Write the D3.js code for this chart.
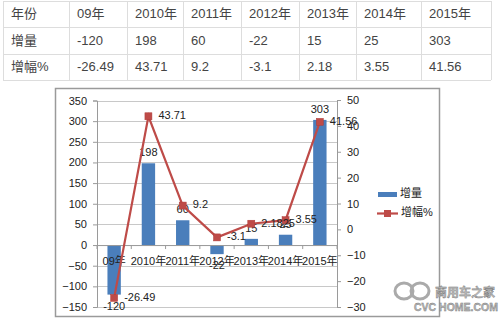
<!DOCTYPE html>
<html><head><meta charset="utf-8">
<script src="https://cdn.jsdelivr.net/npm/d3@7"></script>
<style>
body{margin:0;background:#fff;}
svg{display:block;}
</style></head>
<body><svg id="c" width="500" height="323"></svg>
<script>
const categories = ["09年","2010年","2011年","2012年","2013年","2014年","2015年"];
const tableYears = ["09年","2010年","2011年","2012年","2013年","2014年","2015年"];
const increase = [-120,198,60,-22,15,25,303];
const growthTable = ["-26.49","43.71","9.2","-3.1","2.18","3.55","41.56"];
const growth = [-26.49,43.71,9.2,-3.1,2.1825,3.55,41.56];
const growthLabels = ["-26.49","43.71","9.2","-3.1","2.1825","3.55","41.56"];
const leftTicks = [-150,-100,-50,0,50,100,150,200,250,300,350];
const rightTicks = [-30,-20,-10,0,10,20,30,40,50];
const rowHeads = ["年份","增量","增幅%"];
const seriesNames = ["增量","增幅%"];

const svg = d3.select("#c");
const FONT = "'Liberation Sans','Noto Sans CJK SC',sans-serif";

// ---------- table ----------
const colEdges = [3,69,127,183,241,299,356,421,491];
const rowEdges = [1,27,54,80];
const tbl = svg.append("g");
const rows = [[rowHeads[0], ...tableYears],[rowHeads[1], ...increase.map(String)],[rowHeads[2], ...growthTable]];
tbl.selectAll("line.h").data(rowEdges).join("line")
  .attr("x1",colEdges[0]).attr("x2",colEdges[colEdges.length-1])
  .attr("y1",d=>d+0.5).attr("y2",d=>d+0.5).attr("stroke","#dddddd");
tbl.selectAll("line.v").data(colEdges).join("line")
  .attr("y1",rowEdges[0]).attr("y2",rowEdges[rowEdges.length-1])
  .attr("x1",d=>d+0.5).attr("x2",d=>d+0.5).attr("stroke","#dddddd");
rows.forEach((r,ri)=>{
  tbl.selectAll(null).data(r).join("text")
    .attr("x",(d,i)=>colEdges[i]+8)
    .attr("y",(rowEdges[ri]+rowEdges[ri+1])/2+1)
    .attr("dominant-baseline","middle")
    .attr("font-family",FONT).attr("font-size",13).attr("fill","#444")
    .text(d=>d);
});

// ---------- chart frame ----------
svg.append("rect").attr("x",55.5).attr("y",88.5).attr("width",384).attr("height",228)
  .attr("fill","#fff").attr("stroke","#9a9a9a").attr("stroke-width",1.5);

const x = d3.scaleBand().domain(categories).range([97,337]).padding(0);
const yL = d3.scaleLinear().domain([-150,350]).range([307,100.5]);
const yR = d3.scaleLinear().domain([-30,50]).range([307,100]);

// gridlines
svg.append("g").selectAll("line").data(leftTicks).join("line")
  .attr("x1",97).attr("x2",337)
  .attr("y1",d=>Math.round(yL(d))+0.5).attr("y2",d=>Math.round(yL(d))+0.5)
  .attr("stroke","#c8c8c8");

// left axis
const gL = svg.append("g").attr("transform","translate(97,0)")
  .call(d3.axisLeft(yL).tickValues(leftTicks).tickSize(4).tickPadding(6));
// right axis
const gR = svg.append("g").attr("transform","translate(337,0)")
  .call(d3.axisRight(yR).tickValues(rightTicks).tickSize(4).tickPadding(6));
[gL,gR].forEach(g=>{
  g.select(".domain").attr("stroke","#9a9a9a");
  g.selectAll(".tick line").attr("stroke","#9a9a9a");
  g.selectAll(".tick text").attr("font-family",FONT).attr("font-size",11).attr("fill","#222");
});

// bars
const bw = x.bandwidth()*0.39;
svg.append("g").selectAll("rect").data(increase).join("rect")
  .attr("x",(d,i)=>x(categories[i])+x.bandwidth()/2-bw/2)
  .attr("width",bw)
  .attr("y",d=>yL(Math.max(0,d)))
  .attr("height",d=>Math.abs(yL(d)-yL(0)))
  .attr("fill","#4a7ebb");

// x axis at zero
const gX = svg.append("g").attr("transform",`translate(0,${yL(0)})`)
  .call(d3.axisBottom(x).tickSize(0).tickPadding(12));
gX.select(".domain").attr("stroke","#9a9a9a");
gX.selectAll(".tick text").attr("font-family",FONT).attr("font-size",11).attr("fill","#222");
svg.append("g").selectAll("line").data(d3.range(categories.length+1)).join("line")
  .attr("x1",i=>97+i*x.step()).attr("x2",i=>97+i*x.step())
  .attr("y1",yL(0)).attr("y2",yL(0)+4).attr("stroke","#9a9a9a");

// bar labels
svg.append("g").selectAll("text").data(increase).join("text")
  .attr("x",(d,i)=>x(categories[i])+x.bandwidth()/2)
  .attr("y",d=>d>=0? yL(d)-10 : yL(d)+12)
  .attr("text-anchor","middle").attr("dominant-baseline","middle")
  .attr("font-family",FONT).attr("font-size",11).attr("fill","#222")
  .text(d=>d);

// line
const line = d3.line().x((d,i)=>x(categories[i])+x.bandwidth()/2).y(d=>yR(d));
svg.append("path").datum(growth).attr("d",line)
  .attr("fill","none").attr("stroke","#be4b48").attr("stroke-width",2.2);
svg.append("g").selectAll("rect").data(growth).join("rect")
  .attr("x",(d,i)=>x(categories[i])+x.bandwidth()/2-3.5)
  .attr("y",d=>yR(d)-3.5).attr("width",7).attr("height",7)
  .attr("fill","#be4b48").attr("stroke","#b03c39").attr("stroke-width",0.5);
svg.append("g").selectAll("text").data(growth).join("text")
  .attr("x",(d,i)=>x(categories[i])+x.bandwidth()/2+10)
  .attr("y",d=>yR(d))
  .attr("dominant-baseline","middle")
  .attr("font-family",FONT).attr("font-size",11).attr("fill","#222")
  .text((d,i)=>growthLabels[i]);

// legend
const lg = svg.append("g");
lg.append("rect").attr("x",378).attr("y",192).attr("width",19).attr("height",5).attr("fill","#4a7ebb");
lg.append("text").attr("x",400).attr("y",194.5).attr("dominant-baseline","middle")
  .attr("font-family",FONT).attr("font-size",11).attr("fill","#222").text(seriesNames[0]);
lg.append("line").attr("x1",377).attr("x2",398).attr("y1",213.5).attr("y2",213.5)
  .attr("stroke","#be4b48").attr("stroke-width",2.2);
lg.append("rect").attr("x",384).attr("y",210).attr("width",7).attr("height",7).attr("fill","#be4b48");
lg.append("text").attr("x",401).attr("y",213.5).attr("dominant-baseline","middle")
  .attr("font-family",FONT).attr("font-size",11).attr("fill","#222").text(seriesNames[1]);

// watermark
const wm = svg.append("g").attr("font-family",FONT).attr("fill","#bbb").attr("stroke","#777").attr("stroke-width",0.4);
wm.append("ellipse").attr("cx",404).attr("cy",291).attr("rx",9).attr("ry",8).attr("fill","none").attr("stroke","#aaa").attr("stroke-width",3);
wm.append("ellipse").attr("cx",420).attr("cy",291).attr("rx",9).attr("ry",8).attr("fill","none").attr("stroke","#aaa").attr("stroke-width",3);
wm.append("text").attr("x",435).attr("y",297).attr("font-size",12).attr("font-weight","bold").text("商用车之家");
wm.append("text").attr("x",414).attr("y",311).attr("font-size",10.5).attr("font-weight","bold").text("CVC HOME.COM");
</script></body></html>
